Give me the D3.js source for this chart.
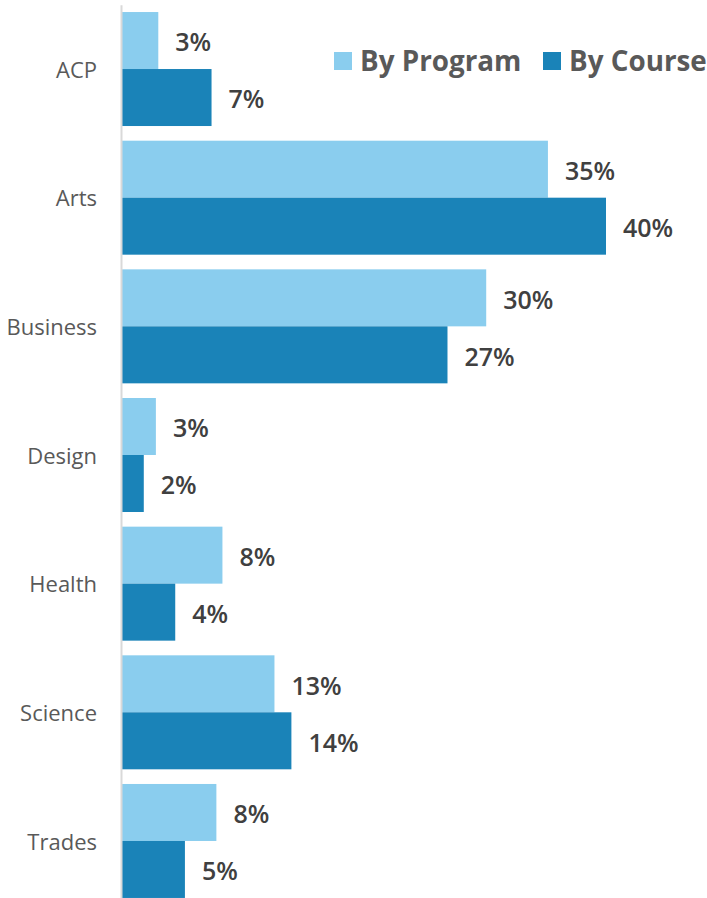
<!DOCTYPE html>
<html>
<head>
<meta charset="utf-8">
<script src="https://cdn.jsdelivr.net/npm/d3@7"></script>
<style>
  body { margin: 0; background: #fff; }
  .y-axis text { font-family: "Open Sans", sans-serif; font-size: 22px; fill: #595959; }
  .val { font-family: "Open Sans", sans-serif; font-size: 25px; font-weight: 600; fill: #404040; }
  .legend text { font-family: "Open Sans", sans-serif; font-size: 27.8px; font-weight: 700; fill: #595959; }
</style>
</head>
<body>
<div id="chart"></div>
<script>
// data
var categories = ["ACP", "Arts", "Business", "Design", "Health", "Science", "Trades"];
var seriesNames = ["By Program", "By Course"];
var byProgram = [3.0, 35.2, 30.1, 2.8, 8.3, 12.6, 7.8];
var byCourse = [7.4, 40.0, 26.9, 1.8, 4.4, 14.0, 5.2];
var colors = ["#8ACDEE", "#1A83B8"];

var svgWidth = 707;
var svgHeight = 898;

var svg = d3.select("#chart")
  .append("svg")
  .attr("width", svgWidth)
  .attr("height", svgHeight);

// scales
var yScale = d3.scaleBand()
  .domain(categories)
  .range([4.7, 905.3])
  .paddingInner(0.114)
  .paddingOuter(0.057);

var ySub = d3.scaleBand()
  .domain(seriesNames)
  .range([0, yScale.bandwidth()]);

var xScale = d3.scaleLinear()
  .domain([0, 40])
  .range([122, 606]);

var rows = categories.map(function(c, i) {
  return { cat: c, values: [byProgram[i], byCourse[i]] };
});

// bars
var groups = svg.selectAll(".grp")
  .data(rows)
  .enter()
  .append("g")
  .attr("class", "grp")
  .attr("transform", d => `translate(0, ${yScale(d.cat)})`);

groups.selectAll("rect")
  .data(d => d.values.map((v, j) => ({ key: seriesNames[j], v: v, j: j })))
  .enter()
  .append("rect")
  .attr("x", xScale(0))
  .attr("y", d => ySub(d.key))
  .attr("width", d => xScale(d.v) - xScale(0))
  .attr("height", ySub.bandwidth())
  .attr("fill", d => colors[d.j]);

groups.selectAll("text")
  .data(d => d.values.map((v, j) => ({ key: seriesNames[j], v: v })))
  .enter()
  .append("text")
  .attr("class", "val")
  .attr("x", d => xScale(d.v) + 17)
  .attr("y", d => ySub(d.key) + ySub.bandwidth() / 2 + 2)
  .attr("dy", "0.35em")
  .text(d => Math.round(d.v) + "%");

// y axis
var yAxis = svg.append("g")
  .attr("class", "y-axis")
  .attr("transform", "translate(121, 0)")
  .call(d3.axisLeft(yScale).tickSize(0).tickPadding(24));

yAxis.selectAll(".tick text").attr("dy", "0.4em");

yAxis.select(".domain")
  .attr("stroke", "#d9d9d9")
  .attr("stroke-width", 2);

// legend
var legend = svg.append("g").attr("class", "legend");
var legendX = [334, 543];
seriesNames.forEach(function(name, i) {
  legend.append("rect")
    .attr("x", legendX[i])
    .attr("y", 52)
    .attr("width", 18)
    .attr("height", 18)
    .attr("fill", colors[i]);
  legend.append("text")
    .attr("x", legendX[i] + 26)
    .attr("y", 61)
    .attr("dy", "0.35em")
    .text(name);
});
</script>
</body>
</html>
